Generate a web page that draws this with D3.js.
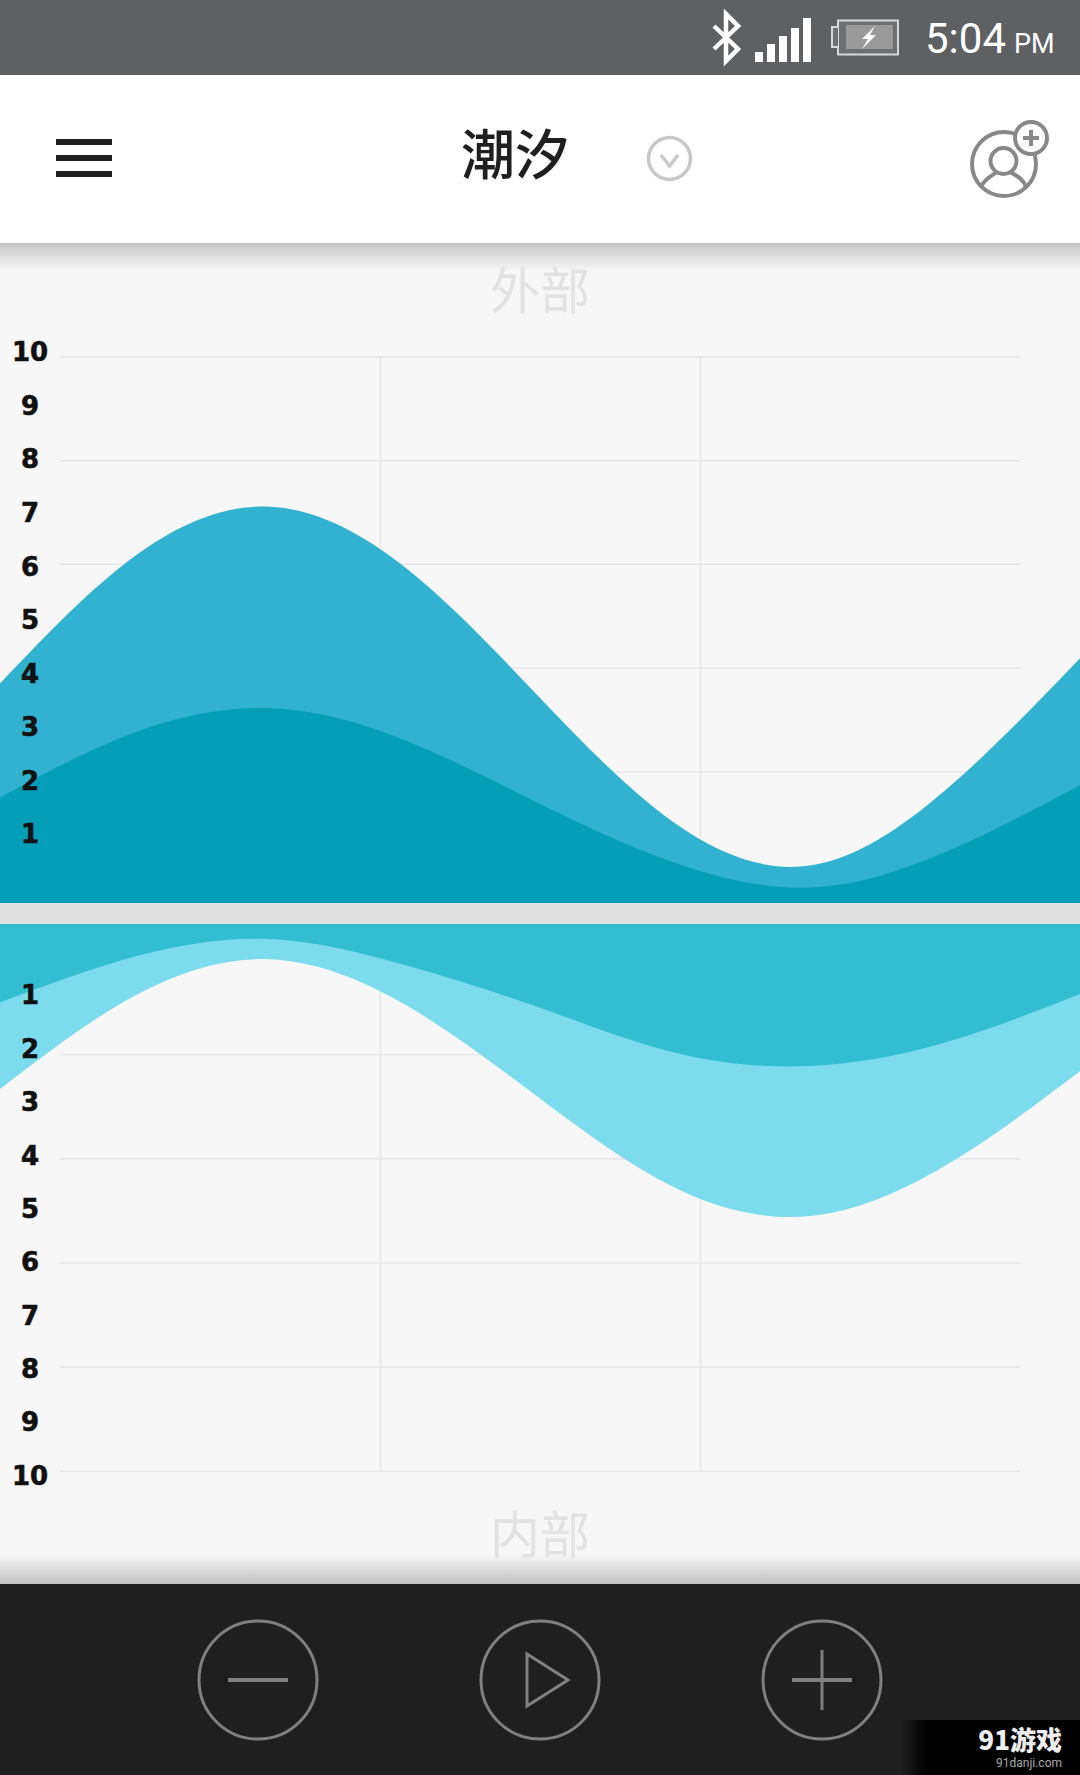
<!DOCTYPE html>
<html>
<head>
<meta charset="utf-8">
<script src="https://cdnjs.cloudflare.com/ajax/libs/d3/7.8.5/d3.min.js"></script>
<style>
  body { margin: 0; background: #f7f7f7; }
  svg { display: block; }
  .cjk { font-family: "Noto Sans CJK SC", sans-serif; }
  .tick-label text { font-family: "DejaVu Sans", sans-serif; font-weight: 700; font-size: 26px; fill: #111; stroke: #111; stroke-width: 0.6px; }
  .grid line { stroke: #e4e4e4; stroke-width: 1.3; }
</style>
</head>
<body>
<div id="container"></div>
<script>
/* DATA */
// evenly spaced on purpose, curveNatural runs on the point index
const hours = [-1.125, 1.406, 3.938, 6.469, 9, 11.531, 14.063, 16.594, 19.125];

const outerHigh = [3.80, 6.18, 7.10, 5.97, 3.53, 1.19, 0.40, 1.80, 4.27];
const outerLow = [1.67, 2.89, 3.34, 2.74, 1.55, 0.45, -0.01, 0.65, 1.90];
const innerDeep = [2.77, 1.02, 0.34, 1.19, 2.95, 4.62, 5.15, 4.21, 2.44];
const innerShallow = [1.15, 0.29, -0.04, 0.45, 1.25, 2.09, 2.34, 1.90, 0.99];

const levelTicks = [1, 2, 3, 4, 5, 6, 7, 8, 9, 10];
const gridTicks = [2, 4, 6, 8, 10];
const hourTicks = [6, 12];

const outerBase = -0.3;
const innerBase = -0.32;

/* CONSTANTS */
const width = 1080;
const height = 1775;

const svg = d3.select("#container")
  .append("svg")
  .attr("width", width)
  .attr("height", height);

const defs = svg.append("defs");

function fade(id, x1, y1, x2, y2, stops) {
  const g = defs.append("linearGradient").attr("id", id)
    .attr("x1", x1).attr("y1", y1).attr("x2", x2).attr("y2", y2);
  stops.forEach(s => g.append("stop").attr("offset", s[0]).attr("stop-color", s[1]));
}
fade("topShadow", 0, 0, 0, 1, [[0, "#c6c6c6"], [1, "#f7f7f7"]]);
fade("bottomShadow", 0, 0, 0, 1, [[0, "#f7f7f7"], [1, "#c2c2c2"]]);
fade("markFade", 0, 0, 1, 0, [[0, "#1f1f1f"], [1, "#000000"]]);

/* SCALES */
const xScale = d3.scaleLinear().domain([0, 18]).range([60, 1020]);

const outerY = d3.scaleLinear().domain([outerBase, 10]).range([903, 351.5]);
const innerY = d3.scaleLinear().domain([innerBase, 10]).range([924, 1475]);

// the grid lines do not sit on the labels in the picture, so they get their own scales
const outerGridY = d3.scaleLinear().domain([0, 10]).range([875, 356.5]);
const innerGridY = d3.scaleLinear().domain([0, 10]).range([950, 1470.6]);

/* GRID */
function drawGrid(gridY) {
  svg.append("g")
    .attr("class", "grid")
    .attr("transform", "translate(60,0)")
    .call(d3.axisLeft(gridY).tickValues(gridTicks).tickSize(-960).tickFormat(""))
    .call(g => g.select(".domain").remove());

  svg.append("g")
    .attr("class", "grid")
    .attr("transform", `translate(0,${d3.min(gridY.range())})`)
    .call(d3.axisBottom(xScale).tickValues(hourTicks)
      .tickSize(Math.abs(gridY.range()[0] - gridY.range()[1])).tickFormat(""))
    .call(g => g.select(".domain").remove());
}
drawGrid(outerGridY);
drawGrid(innerGridY);

/* AREAS */
function drawArea(values, yScale, base, color) {
  const area = d3.area()
    .x((d, i) => xScale(hours[i]))
    .y0(yScale(base))
    .y1(d => yScale(d))
    .curve(d3.curveNatural);
  svg.append("path").datum(values).attr("d", area).attr("fill", color);
}
drawArea(outerHigh, outerY, outerBase, "#31b2d1");
drawArea(outerLow, outerY, outerBase, "#059eb9");
drawArea(innerDeep, innerY, innerBase, "#7cdcee");
drawArea(innerShallow, innerY, innerBase, "#32bed0");

// divider between the two charts
svg.append("rect").attr("x", 0).attr("y", 903).attr("width", width).attr("height", 21).attr("fill", "#e0e0e0");

/* AXES */
[outerY, innerY].forEach(yScale => {
  svg.append("g")
    .attr("class", "tick-label")
    .attr("transform", "translate(30,0)")
    .call(d3.axisLeft(yScale).tickValues(levelTicks).tickSize(0).tickPadding(0))
    .call(g => g.select(".domain").remove())
    .call(g => g.selectAll("text").attr("text-anchor", "middle").attr("dy", "0.36em"));
});

/* APP CHROME */
svg.append("rect").attr("x", 0).attr("y", 243).attr("width", width).attr("height", 28).attr("fill", "url(#topShadow)");
svg.append("rect").attr("x", 0).attr("y", 1555).attr("width", width).attr("height", 29).attr("fill", "url(#bottomShadow)");

svg.append("text").attr("class", "cjk").attr("x", 540).attr("y", 309)
  .attr("text-anchor", "middle").attr("font-size", 50).attr("fill", "#e2e2e2").text("外部");
svg.append("text").attr("class", "cjk").attr("x", 540).attr("y", 1553)
  .attr("text-anchor", "middle").attr("font-size", 50).attr("fill", "#e2e2e2").text("内部");

// status bar
svg.append("rect").attr("x", 0).attr("y", 0).attr("width", width).attr("height", 75).attr("fill", "#5f6062");
svg.append("path").attr("d", "M714,26L738,49L726,61V14L738,26L714,49")
  .attr("fill", "none").attr("stroke", "#fff").attr("stroke-width", 4.5);
[[755, 52], [767, 44], [779, 36], [791, 28], [803, 18]].forEach(b => {
  svg.append("rect").attr("x", b[0]).attr("y", b[1]).attr("width", 8).attr("height", 62 - b[1]).attr("fill", "#fff");
});
svg.append("rect").attr("x", 838).attr("y", 20.5).attr("width", 60).attr("height", 34)
  .attr("fill", "#6e6f71").attr("stroke", "#d8d8d8").attr("stroke-width", 2);
svg.append("path").attr("d", "M838,27H832V47H838").attr("fill", "#6e6f71").attr("stroke", "#d8d8d8").attr("stroke-width", 2);
svg.append("rect").attr("x", 846).attr("y", 25).attr("width", 47).attr("height", 24).attr("fill", "#9a9a9a");
svg.append("path").attr("d", "M875,26L862,39H868L862,49L876,35H870Z").attr("fill", "#fff");
svg.append("text").attr("x", 925).attr("y", 53).attr("font-family", "Roboto")
  .attr("font-size", 42).attr("fill", "#fff").text("5:04");
svg.append("text").attr("x", 1014).attr("y", 53).attr("font-family", "Roboto")
  .attr("font-size", 27).attr("fill", "#fff").text("PM");

// header
svg.append("rect").attr("x", 0).attr("y", 75).attr("width", width).attr("height", 168).attr("fill", "#fff");
[139, 155, 171].forEach(y => {
  svg.append("rect").attr("x", 56).attr("y", y).attr("width", 56).attr("height", 6).attr("fill", "#1f1f1f");
});
svg.append("text").attr("class", "cjk").attr("x", 515).attr("y", 175)
  .attr("text-anchor", "middle").attr("font-size", 54).attr("font-weight", 500).attr("fill", "#1f1f1f").text("潮汐");
svg.append("circle").attr("cx", 669.5).attr("cy", 158.5).attr("r", 21)
  .attr("fill", "none").attr("stroke", "#c8c8c8").attr("stroke-width", 3.5);
svg.append("path").attr("d", "M661,155L669.5,166L678,155")
  .attr("fill", "none").attr("stroke", "#c8c8c8").attr("stroke-width", 3.5);

const userIcon = svg.append("g").attr("fill", "none").attr("stroke", "#888").attr("stroke-width", 4);
userIcon.append("circle").attr("cx", 1004).attr("cy", 164).attr("r", 32);
userIcon.append("circle").attr("cx", 1003.5).attr("cy", 161).attr("r", 13);
userIcon.append("path").attr("d", "M981,187C985,178 993,175 997,172M1010,172C1015,175 1023,178 1026,187");
userIcon.append("circle").attr("cx", 1031).attr("cy", 138).attr("r", 16).attr("fill", "#fff");
userIcon.append("path").attr("d", "M1023,138H1039M1031,130V146");

// bottom bar
svg.append("rect").attr("x", 0).attr("y", 1584).attr("width", width).attr("height", 191).attr("fill", "#1f1f1f");
const controls = svg.append("g").attr("fill", "none").attr("stroke", "#808080").attr("stroke-width", 3);
[258, 540, 822].forEach(cx => {
  controls.append("circle").attr("cx", cx).attr("cy", 1680).attr("r", 59);
});
controls.append("path").attr("d", "M228,1680H288").attr("stroke-width", 4);
controls.append("path").attr("d", "M527,1654L568,1680L527,1706Z");
controls.append("path").attr("d", "M792,1680H852").attr("stroke-width", 4);
controls.append("path").attr("d", "M822,1650V1710");

// watermark
svg.append("rect").attr("x", 902).attr("y", 1720).attr("width", 24).attr("height", 55).attr("fill", "url(#markFade)");
svg.append("rect").attr("x", 926).attr("y", 1720).attr("width", 154).attr("height", 55).attr("fill", "#000");
svg.append("text").attr("class", "cjk").attr("x", 1062).attr("y", 1750).attr("text-anchor", "end")
  .attr("font-size", 26).attr("font-weight", 900).attr("fill", "#eee").text("91游戏");
svg.append("text").attr("x", 1062).attr("y", 1767).attr("text-anchor", "end").attr("font-family", "Roboto")
  .attr("font-size", 12).attr("fill", "#aaa").text("91danji.com");
</script>
</body>
</html>
